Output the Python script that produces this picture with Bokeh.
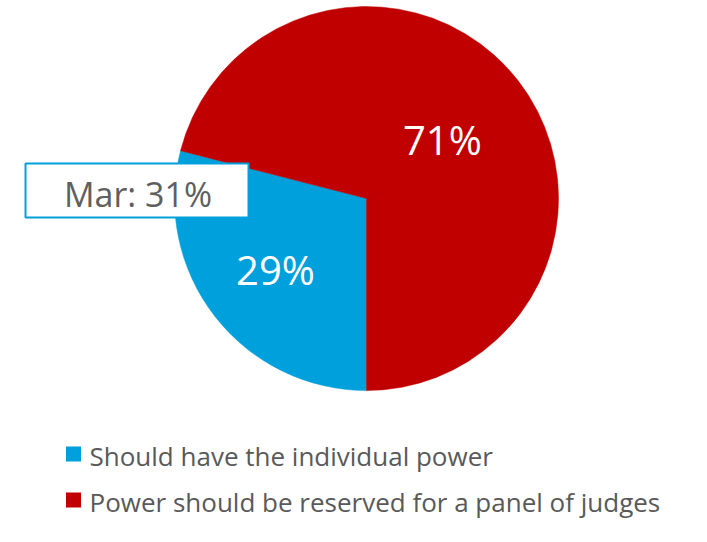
import math
from bokeh.plotting import figure
from bokeh.models import Range1d, ColumnDataSource
from bokeh.core.properties import value
from bokeh.embed import file_html
from bokeh.resources import INLINE

# ---- data ----
categories = ["Should have the individual power",
              "Power should be reserved for a panel of judges"]
values = [29, 71]
colors = ["#00A0DC", "#C00000"]
prev_label = "Mar"
prev_value = 31

# ---- layout constants (pixel units, 1 data unit = 1 px) ----
W, H = 691, 526
CX, CY = 366, 198          # pie centre from top-left of figure
R = 192
FONT = "Open Sans"

p = figure(width=W, height=H, output_backend="svg", toolbar_location=None,
           x_range=Range1d(-CX, W - CX), y_range=Range1d(-(H - CY), CY),
           min_border=0, outline_line_color=None)
p.axis.visible = False
p.grid.visible = False
p.background_fill_color = "white"
p.border_fill_color = "white"

# wedges: first slice starts at 6 o'clock, going clockwise
total = float(sum(values))
start = 270.0
starts, ends, mids = [], [], []
for v in values:
    sweep = 360.0 * v / total
    end = start - sweep
    starts.append(math.radians(end))
    ends.append(math.radians(start))
    mids.append(start - sweep / 2)
    start = end

src = ColumnDataSource(dict(start=starts, end=ends, color=colors))
p.wedge(x=0, y=0, radius=R, start_angle="start", end_angle="end",
        direction="anticlock", fill_color="color", line_color="color",
        line_width=0.5, source=src)

# data labels
label_r = [0.60 * R, 0.50 * R]
lx = [label_r[i] * math.cos(math.radians(m)) for i, m in enumerate(mids)]
ly = [label_r[i] * math.sin(math.radians(m)) for i, m in enumerate(mids)]
lt = [f"{v}%" for v in values]
p.text(x=lx, y=ly, text=lt, text_color="white", text_font=value(FONT),
       text_font_size="40px", text_align="center", text_baseline="middle")

# callout box with previous value
p.rect(x=[-229.5], y=[8], width=[223], height=[54], fill_color="white",
       line_color=colors[0], line_width=2)
p.text(x=[-228.5], y=[5], text=[f"{prev_label}: {prev_value}%"],
       text_color="#5f5f5f", text_font=value(FONT), text_font_size="34px",
       text_align="center", text_baseline="middle")

# legend (kept inside the figure)
leg_sq_x = [-293, -293]
leg_sq_y = [-255.5, -301.5]
p.rect(x=leg_sq_x, y=leg_sq_y, width=15, height=15, fill_color=colors,
       line_color=None)
p.text(x=[-277, -277], y=[-257, -303], text=categories, text_color="#595959",
       text_font=value(FONT), text_font_size="26px", text_align="left",
       text_baseline="middle")

open("out.html", "w").write(file_html(p, INLINE))
